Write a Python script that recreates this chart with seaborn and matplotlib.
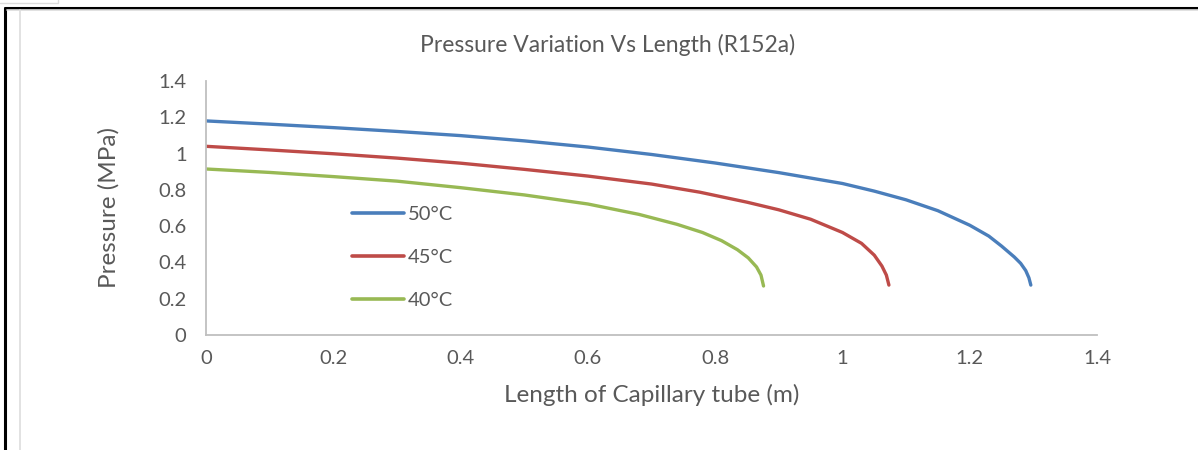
import pandas as pd
import matplotlib.pyplot as plt
from matplotlib.lines import Line2D
import seaborn as sns

# values
len_50 = [0, 0.1, 0.2, 0.3, 0.4, 0.5, 0.6, 0.7, 0.8, 0.9, 1.0, 1.05, 1.1, 1.15, 1.2, 1.23, 1.25, 1.27, 1.28, 1.288, 1.293, 1.296]
p_50 = [1.18, 1.162, 1.143, 1.122, 1.099, 1.07, 1.036, 0.995, 0.948, 0.895, 0.835, 0.793, 0.745, 0.685, 0.605, 0.545, 0.49, 0.43, 0.395, 0.355, 0.315, 0.275]

len_45 = [0, 0.1, 0.2, 0.3, 0.4, 0.5, 0.6, 0.7, 0.776, 0.85, 0.9, 0.95, 1.0, 1.03, 1.05, 1.062, 1.069, 1.073]
p_45 = [1.04, 1.02, 0.999, 0.975, 0.947, 0.913, 0.876, 0.832, 0.787, 0.732, 0.69, 0.638, 0.565, 0.505, 0.44, 0.38, 0.33, 0.275]

len_40 = [0, 0.1, 0.2, 0.3, 0.4, 0.5, 0.6, 0.68, 0.74, 0.78, 0.81, 0.835, 0.852, 0.865, 0.872, 0.876]
p_40 = [0.915, 0.896, 0.873, 0.848, 0.812, 0.772, 0.722, 0.665, 0.61, 0.565, 0.52, 0.47, 0.425, 0.375, 0.33, 0.27]

series_names = ['50°C', '45°C', '40°C']
colors = ['#4A7EBB', '#BE4B48', '#98B954']

df = pd.concat([
    pd.DataFrame({'Length': len_50, 'Pressure': p_50, 'Temp': series_names[0]}),
    pd.DataFrame({'Length': len_45, 'Pressure': p_45, 'Temp': series_names[1]}),
    pd.DataFrame({'Length': len_40, 'Pressure': p_40, 'Temp': series_names[2]}),
], ignore_index=True)

sns.set_style('white')
plt.rcParams['font.family'] = ['Lato', 'DejaVu Sans']
txt = '#595959'

fig = plt.figure(figsize=(11.98, 4.5), dpi=100)
ax = fig.add_axes([0.172, 0.2556, 0.7437, 0.5644])

sns.lineplot(data=df, x='Length', y='Pressure', hue='Temp', hue_order=series_names,
             palette=colors, sort=False, estimator=None, linewidth=2.4, ax=ax)
for ln in ax.lines:
    ln.set_solid_joinstyle('round')
    ln.set_solid_capstyle('round')

ticks = [0, 0.2, 0.4, 0.6, 0.8, 1, 1.2, 1.4]
tick_labels = ['0', '0.2', '0.4', '0.6', '0.8', '1', '1.2', '1.4']
ax.set_xlim(0, 1.4)
ax.set_ylim(0, 1.4)
ax.set_xticks(ticks)
ax.set_xticklabels(tick_labels)
ax.set_yticks(ticks)
ax.set_yticklabels(tick_labels)
ax.tick_params(axis='both', length=0, labelsize=14.5, colors=txt)
ax.tick_params(axis='y', pad=14)
ax.tick_params(axis='x', pad=11)

for s in ['top', 'right']:
    ax.spines[s].set_visible(False)
for s in ['left', 'bottom']:
    ax.spines[s].set_color('#BFBFBF')
    ax.spines[s].set_linewidth(1.3)

fig.text(0.507, 0.9, 'Pressure Variation Vs Length (R152a)', fontsize=16.5, color=txt,
         ha='center', va='center')
ax.set_xlabel('Length of Capillary tube (m)', fontsize=17.5, color=txt, labelpad=12)
ax.set_ylabel('Pressure (MPa)', fontsize=17.5, color=txt, labelpad=28)

handles = [Line2D([0], [0], color=c, lw=2.6) for c in colors]
ax.legend(handles, series_names, loc='upper left', bbox_to_anchor=(0.143, 0.578),
          frameon=False, fontsize=14.5, labelcolor=txt, handlelength=2.6,
          handletextpad=0.2, labelspacing=1.27)

# outer frame like the screenshot
fig.add_artist(Line2D([0.004, 0.004], [0, 0.983], color='black', lw=2.2, transform=fig.transFigure))
fig.add_artist(Line2D([0.004, 1], [0.983, 0.983], color='black', lw=2.2, transform=fig.transFigure))
fig.add_artist(Line2D([0.017, 0.017], [0, 0.978], color='#DDDDDD', lw=1.2, transform=fig.transFigure))
fig.add_artist(Line2D([0.006, 1], [0.977, 0.977], color='#DDDDDD', lw=1.2, transform=fig.transFigure))
fig.add_artist(Line2D([0, 0.048, 0.048], [0.994, 0.994, 1], color='#DDDDDD', lw=1, transform=fig.transFigure))

fig.savefig('out.png', dpi=100)
